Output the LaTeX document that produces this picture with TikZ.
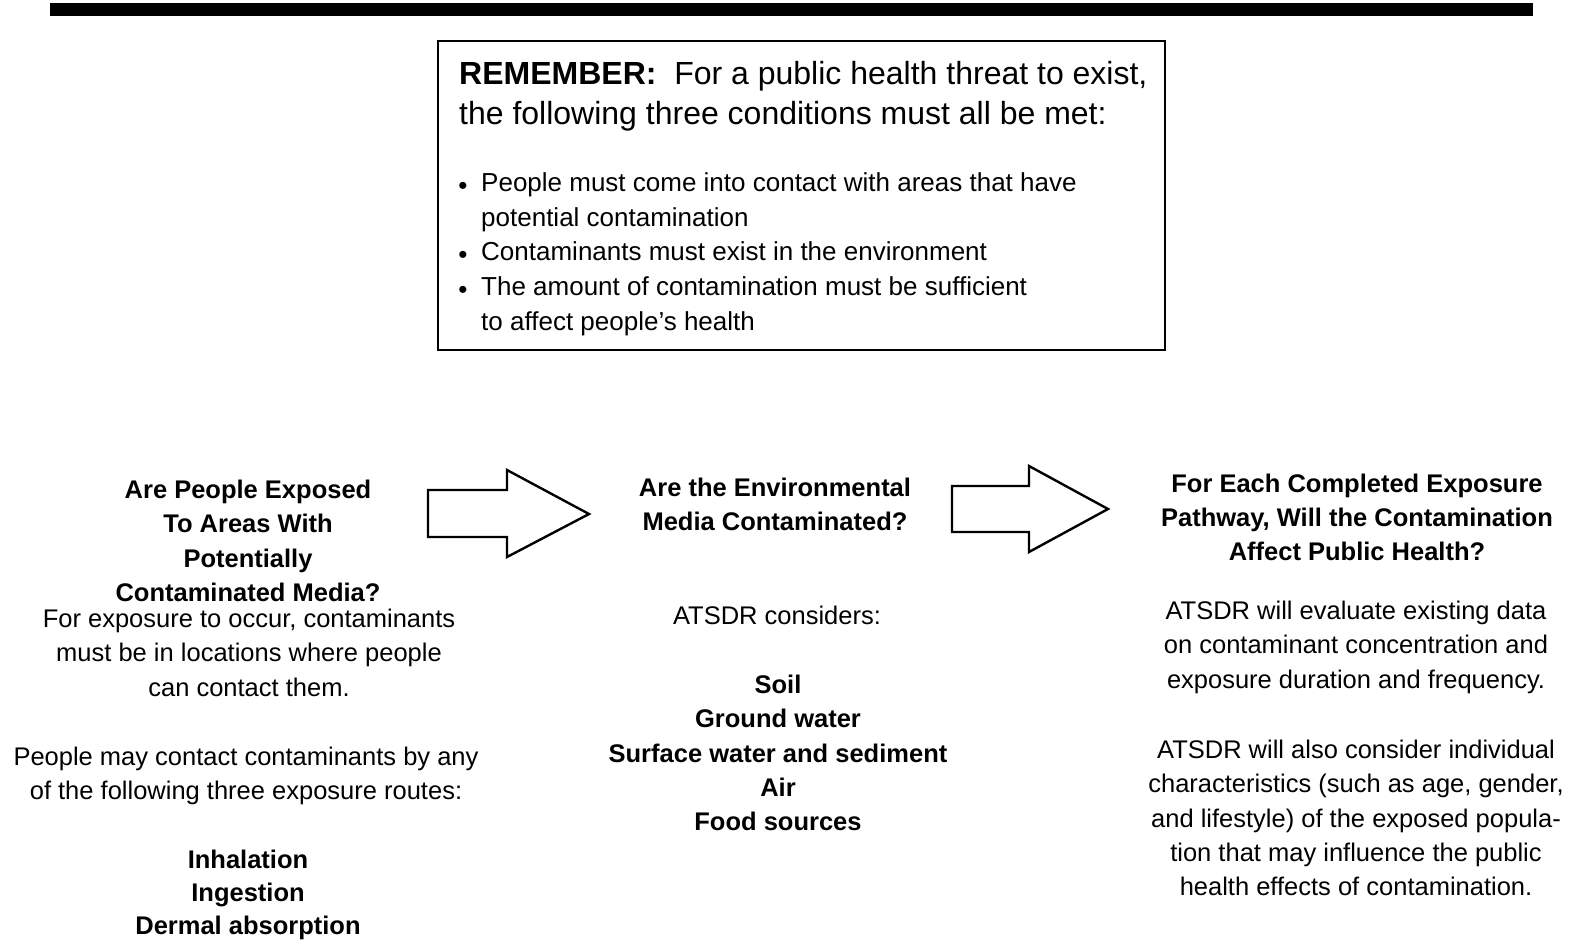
\documentclass[tikz,border=0pt]{standalone}
\usepackage{fontspec}
\setmainfont{Liberation Sans}
\begin{document}
\begin{tikzpicture}[x=1pt,y=-1pt,
  txt/.style={inner sep=0pt,anchor=north,align=center,font=\fontsize{25.5}{34.2}\selectfont},
  btxt/.style={txt,font=\fontsize{25.5}{34.2}\selectfont\bfseries},
  dot/.style={inner sep=0pt,font=\fontsize{26}{26}\selectfont},
  blockarrow/.style={draw=black,line width=2.4pt,fill=white,line join=miter}]
\useasboundingbox (0,0) rectangle (1579,943);
% top rule
\fill (50,3) rectangle (1533,16);
% REMEMBER box
\node[draw,line width=2.4pt,minimum width=727pt,minimum height=309pt,inner sep=0pt] (box) at (801.5,195.5) {};
\node[inner sep=0pt,anchor=north west,align=left,font=\fontsize{32}{40.5}\selectfont] (title) at (459,61)
  {\textbf{REMEMBER:}\ \ For a public health threat to exist,\\the following three conditions must all be met:};
\node[inner sep=0pt,anchor=north west,align=left,font=\fontsize{26}{34.7}\selectfont] (bul) at (481,172.5)
  {People must come into contact with areas that have\\potential contamination\\Contaminants must exist in the environment\\The amount of contamination must be sufficient\\to affect people's health};
\node[dot] (d1) at (463,188) {\textbullet};
\node[dot] (d2) at (463,257) {\textbullet};
\node[dot] (d3) at (463,292) {\textbullet};
% block arrows
\draw[blockarrow] (428,490) -- (507,490) -- (507,470) -- (589,514) -- (507,557) -- (507,537) -- (428,537) -- cycle;
\draw[blockarrow] (952,486) -- (1029,486) -- (1029,466) -- (1108,509) -- (1029,552) -- (1029,532) -- (952,532) -- cycle;
% column 1
\node[btxt] (h1) at (248,480) {Are People Exposed\\To Areas With\\Potentially\\Contaminated Media?};
\node[txt] (p1a) at (249,609) {For exposure to occur, contaminants\\must be in locations where people\\can contact them.};
\node[txt] (p1b) at (246,747) {People may contact contaminants by any\\of the following three exposure routes:};
\node[btxt,font=\fontsize{25.5}{33.2}\selectfont\bfseries] (p1c) at (248,849.5) {Inhalation\\Ingestion\\Dermal absorption};
% column 2
\node[btxt] (h2) at (775,478) {Are the Environmental\\Media Contaminated?};
\node[txt] (p2a) at (777,606) {ATSDR considers:};
\node[btxt] (p2b) at (778,675) {Soil\\Ground water\\Surface water and sediment\\Air\\Food sources};
% column 3
\node[btxt,font=\fontsize{25.5}{33.7}\selectfont\bfseries] (h3) at (1357,474) {For Each Completed Exposure\\Pathway, Will the Contamination\\Affect Public Health?};
\node[txt] (p3a) at (1356,601) {ATSDR will evaluate existing data\\on contaminant concentration and\\exposure duration and frequency.};
\node[txt] (p3b) at (1356,740) {ATSDR will also consider individual\\characteristics (such as age, gender,\\and lifestyle) of the exposed popula-\\tion that may influence the public\\health effects of contamination.};
\end{tikzpicture}
\end{document}
